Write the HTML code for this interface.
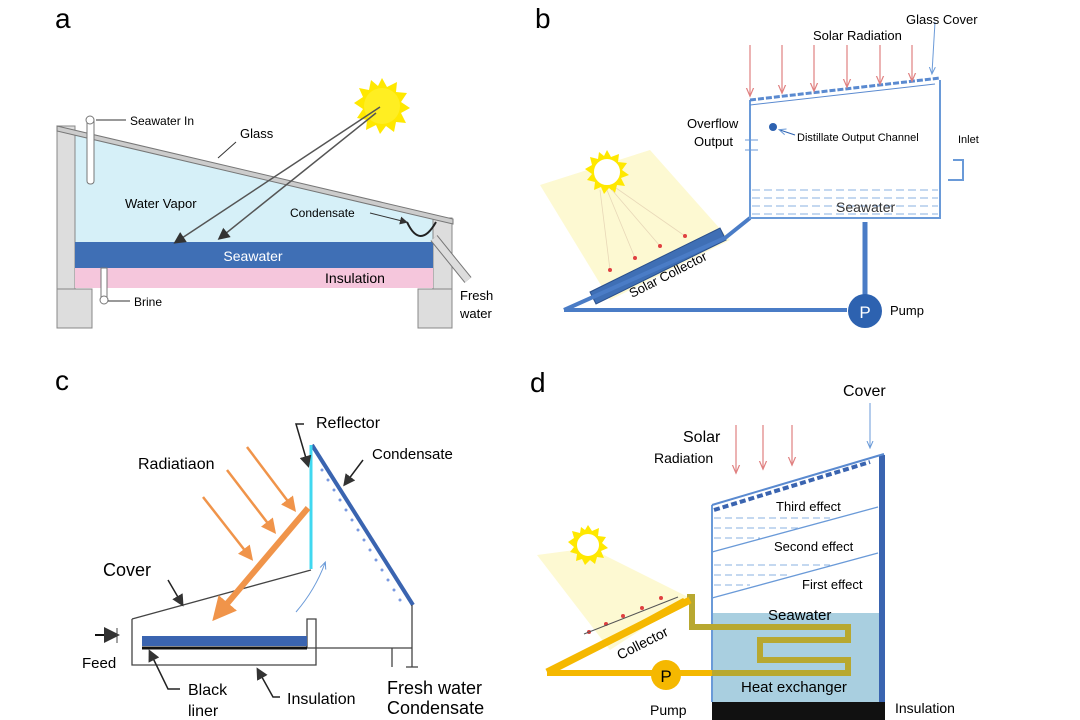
<!DOCTYPE html>
<html><head><style>
html,body{margin:0;padding:0;background:#fff;}
svg{display:block;font-family:"Liberation Sans",sans-serif;}
</style></head><body>
<svg width="1080" height="720" viewBox="0 0 1080 720" xmlns="http://www.w3.org/2000/svg">
<defs>
<marker id="ak" markerWidth="8" markerHeight="8" refX="6" refY="4" orient="auto"><path d="M0,0 L8,4 L0,8 z" fill="#333"/></marker>
<marker id="ar" markerWidth="8" markerHeight="8" refX="6" refY="4" orient="auto"><path d="M0,1 L7,4 L0,7" fill="none" stroke="#e08080" stroke-width="1"/></marker>
<marker id="ab" markerWidth="8" markerHeight="8" refX="6" refY="4" orient="auto"><path d="M0,1 L7,4 L0,7" fill="none" stroke="#6a9ad8" stroke-width="1"/></marker>
<marker id="ao" markerWidth="6" markerHeight="6" refX="4" refY="3" orient="auto"><path d="M0,0 L6,3 L0,6 z" fill="#f0944a"/></marker>
<marker id="ao2" markerWidth="4" markerHeight="4" refX="2" refY="2" orient="auto"><path d="M0,0 L4,2 L0,4 z" fill="#f0944a"/></marker>
</defs>

<!-- Panel labels -->
<text x="55" y="28" font-size="28">a</text>
<text x="535" y="28" font-size="28">b</text>
<text x="55" y="390" font-size="28">c</text>
<text x="530" y="392" font-size="28">d</text>

<!-- ===== Panel a ===== -->
<polygon points="75,132 433,218 433,242 75,242" fill="#d6f0f8"/>
<rect x="57" y="126" width="18" height="163" fill="#ddd" stroke="#888"/>
<rect x="433" y="218" width="19" height="71" fill="#ddd" stroke="#888"/>
<rect x="57" y="289" width="35" height="39" fill="#ddd" stroke="#888"/>
<rect x="418" y="289" width="34" height="39" fill="#ddd" stroke="#888"/>
<polygon points="57,126 453,219 453,224 57,131" fill="#ccc" stroke="#777"/>
<rect x="75" y="242" width="358" height="26" fill="#3f6fb5"/>
<text x="253" y="261" font-size="14" fill="#fff" text-anchor="middle">Seawater</text>
<rect x="75" y="268" width="358" height="20" fill="#f5c6dc"/>
<text x="355" y="283" font-size="14" text-anchor="middle">Insulation</text>
<rect x="87" y="118" width="7" height="66" rx="3" fill="#fff" stroke="#777"/>
<circle cx="90" cy="120" r="4" fill="#fff" stroke="#777"/>
<line x1="96" y1="120" x2="126" y2="120" stroke="#333"/>
<text x="130" y="125" font-size="12">Seawater In</text>
<rect x="101" y="268" width="6" height="32" fill="#fff" stroke="#777"/>
<circle cx="104" cy="300" r="4" fill="#fff" stroke="#777"/>
<line x1="108" y1="301" x2="130" y2="301" stroke="#333"/>
<text x="134" y="306" font-size="12">Brine</text>
<line x1="434" y1="238" x2="468" y2="280" stroke="#777" stroke-width="9"/>
<line x1="434" y1="238" x2="468" y2="280" stroke="#ddd" stroke-width="7"/>
<path d="M407,222 Q420,250 436,222" fill="none" stroke="#222" stroke-width="2"/>
<line x1="370" y1="213" x2="406" y2="222" stroke="#333" marker-end="url(#ak)"/>
<text x="290" y="217" font-size="12">Condensate</text>
<text x="240" y="138" font-size="13">Glass</text>
<line x1="236" y1="142" x2="218" y2="158" stroke="#333"/>
<text x="125" y="208" font-size="13">Water Vapor</text>
<text x="460" y="300" font-size="13">Fresh</text>
<text x="460" y="318" font-size="13">water</text>
<g transform="translate(382,106)">
<polygon points="0,-28 5,-19 15,-24 14,-14 25,-13 19,-4 28,2 19,7 24,17 14,16 12,26 4,20 -2,28 -6,19 -16,24 -15,14 -25,12 -19,3 -28,-3 -19,-9 -23,-18 -13,-16 -11,-26 -4,-20" fill="#ffe800"/>
<circle r="18" fill="#ffee22"/>
</g>
<line x1="380" y1="107" x2="176" y2="242" stroke="#555" stroke-width="1.5" marker-end="url(#ak)"/>
<line x1="376" y1="113" x2="220" y2="238" stroke="#555" stroke-width="1.5" marker-end="url(#ak)"/>

<!-- ===== Panel b ===== -->
<polygon points="540,185 650,150 730,240 610,300" fill="#fdf9d2"/>
<g transform="translate(607,172)">
<polygon points="0,-22 4,-15 12,-18 11,-10 20,-9 15,-2 22,3 14,6 18,14 10,13 8,21 2,16 -3,22 -6,15 -13,18 -12,10 -20,8 -15,2 -22,-3 -15,-7 -17,-15 -9,-13 -8,-20 -3,-16" fill="#ffe800"/>
<circle r="14" fill="#fff" stroke="#ffe800" stroke-width="2"/>
</g>
<g stroke="#e8d8b8" stroke-width="0.8"><line x1="600" y1="190" x2="610" y2="270"/><line x1="607" y1="190" x2="635" y2="258"/><line x1="612" y1="190" x2="660" y2="246"/><line x1="616" y1="188" x2="685" y2="236"/></g>
<g fill="#e04040"><circle cx="610" cy="270" r="2"/><circle cx="635" cy="258" r="2"/><circle cx="660" cy="246" r="2"/><circle cx="685" cy="236" r="2"/></g>
<polygon points="590,292 720,228 726,240 596,304" fill="#3f6fb5" stroke="#2a4f8a"/>
<text x="0" y="0" font-size="13" transform="translate(632,298) rotate(-27)">Solar Collector</text>
<polyline points="564,310 725,238 750,218" fill="none" stroke="#4a7cc6" stroke-width="4"/>
<polyline points="564,310 847,310" fill="none" stroke="#4a7cc6" stroke-width="4"/>
<line x1="865" y1="222" x2="865" y2="295" stroke="#4a7cc6" stroke-width="5"/>
<circle cx="865" cy="311" r="17" fill="#2d62b0"/>
<text x="865" y="318" font-size="17" fill="#fff" text-anchor="middle">P</text>
<text x="890" y="315" font-size="13">Pump</text>
<polyline points="750,100 750,218 940,218 940,80" fill="none" stroke="#6a9ad8" stroke-width="2"/>
<line x1="750" y1="100" x2="940" y2="78" stroke="#5a8ad0" stroke-width="3" stroke-dasharray="6,2"/>
<line x1="750" y1="105" x2="935" y2="84" stroke="#5a8ad0" stroke-width="1"/>
<g stroke="#8ab0e0" stroke-dasharray="8,4"><line x1="752" y1="190" x2="938" y2="190"/><line x1="752" y1="198" x2="938" y2="198"/><line x1="752" y1="206" x2="938" y2="206"/><line x1="752" y1="214" x2="938" y2="214"/></g>
<text x="836" y="212" font-size="14" fill="#333">Seawater</text>
<g stroke="#e08080" stroke-width="1.2" marker-end="url(#ar)">
<line x1="750" y1="45" x2="750" y2="95"/><line x1="782" y1="45" x2="782" y2="92"/><line x1="814" y1="45" x2="814" y2="90"/><line x1="847" y1="45" x2="847" y2="86"/><line x1="880" y1="45" x2="880" y2="83"/><line x1="912" y1="45" x2="912" y2="80"/>
</g>
<line x1="935" y1="22" x2="932" y2="73" stroke="#6a9ad8" marker-end="url(#ab)"/>
<text x="813" y="40" font-size="13">Solar Radiation</text>
<text x="906" y="24" font-size="13">Glass Cover</text>
<text x="687" y="128" font-size="13">Overflow</text>
<text x="694" y="146" font-size="13">Output</text>
<line x1="745" y1="140" x2="758" y2="140" stroke="#6a9ad8"/>
<line x1="745" y1="150" x2="758" y2="150" stroke="#6a9ad8"/>
<circle cx="773" cy="127" r="4" fill="#2d62b0"/>
<line x1="795" y1="135" x2="780" y2="130" stroke="#2d62b0" marker-end="url(#ab)"/>
<text x="797" y="141" font-size="11">Distillate Output Channel</text>
<text x="958" y="143" font-size="11">Inlet</text>
<path d="M953,160 L963,160 L963,180 L948,180" fill="none" stroke="#6a9ad8" stroke-width="2"/>

<!-- ===== Panel c ===== -->
<line x1="312" y1="445" x2="413" y2="605" stroke="#3a64b0" stroke-width="4"/>
<g fill="#7a9ae0">
<circle cx="322" cy="470" r="1.5"/><circle cx="328" cy="480" r="1.5"/><circle cx="334" cy="490" r="1.5"/><circle cx="340" cy="500" r="1.5"/><circle cx="346" cy="510" r="1.5"/><circle cx="352" cy="520" r="1.5"/><circle cx="358" cy="530" r="1.5"/><circle cx="364" cy="540" r="1.5"/><circle cx="370" cy="550" r="1.5"/><circle cx="376" cy="560" r="1.5"/><circle cx="382" cy="570" r="1.5"/><circle cx="388" cy="580" r="1.5"/><circle cx="394" cy="590" r="1.5"/><circle cx="400" cy="600" r="1.5"/>
</g>
<line x1="311" y1="445" x2="311" y2="569" stroke="#40d8f0" stroke-width="3"/>
<g fill="none" stroke="#444" stroke-width="1.3">
<polyline points="132,619 311,570"/>
<polyline points="412,605 412,648"/>
<polyline points="132,619 132,665 316,665 316,619 307,619 307,648 412,648"/>
<line x1="392" y1="648" x2="392" y2="667"/>
<line x1="406" y1="667" x2="418" y2="667"/><line x1="412" y1="648" x2="412" y2="667"/>
</g>
<rect x="142" y="636" width="165" height="10" fill="#3a64b0"/>
<line x1="142" y1="648" x2="307" y2="648" stroke="#111" stroke-width="3"/>
<line x1="95" y1="635" x2="116" y2="635" stroke="#111" stroke-width="2" marker-end="url(#ak)"/>
<line x1="117" y1="628" x2="117" y2="643" stroke="#444"/>
<text x="82" y="668" font-size="15">Feed</text>
<g stroke="#f0944a" stroke-width="2.5" marker-end="url(#ao)">
<line x1="247" y1="447" x2="293" y2="508"/><line x1="227" y1="470" x2="273" y2="530"/><line x1="203" y1="497" x2="250" y2="557"/>
</g>
<line x1="308" y1="508" x2="220" y2="612" stroke="#f0944a" stroke-width="6" marker-end="url(#ao2)"/>
<path d="M296,612 Q315,590 325,563" fill="none" stroke="#6a9ad8" marker-end="url(#ab)"/>
<text x="316" y="428" font-size="16">Reflector</text>
<polyline points="304,424 296,424 308,465" fill="none" stroke="#222" stroke-width="1.5" marker-end="url(#ak)"/>
<text x="372" y="459" font-size="15">Condensate</text>
<line x1="363" y1="460" x2="345" y2="484" stroke="#222" stroke-width="1.5" marker-end="url(#ak)"/>
<text x="138" y="469" font-size="16">Radiatiaon</text>
<text x="103" y="576" font-size="18">Cover</text>
<line x1="168" y1="580" x2="182" y2="604" stroke="#222" stroke-width="1.5" marker-end="url(#ak)"/>
<text x="188" y="695" font-size="16">Black</text>
<text x="188" y="716" font-size="16">liner</text>
<polyline points="180,689 168,689 150,652" fill="none" stroke="#222" stroke-width="1.5" marker-end="url(#ak)"/>
<text x="287" y="704" font-size="16">Insulation</text>
<polyline points="280,697 273,697 258,670" fill="none" stroke="#222" stroke-width="1.5" marker-end="url(#ak)"/>
<text x="387" y="694" font-size="18">Fresh water</text>
<text x="387" y="714" font-size="18">Condensate</text>

<!-- ===== Panel d ===== -->
<polygon points="537,555 590,548 690,598 610,650" fill="#fdf9d2"/>
<g transform="translate(588,545)">
<polygon points="0,-20 4,-14 11,-17 10,-9 18,-8 14,-2 20,3 13,6 16,13 9,12 7,19 2,15 -3,20 -6,14 -12,16 -11,9 -18,7 -14,2 -20,-3 -14,-7 -16,-14 -8,-12 -7,-18 -3,-15" fill="#ffe800"/>
<circle r="12" fill="#fff" stroke="#ffe800" stroke-width="2"/>
</g>
<g fill="#e04040"><circle cx="589" cy="632" r="2"/><circle cx="606" cy="624" r="2"/><circle cx="623" cy="616" r="2"/><circle cx="642" cy="608" r="2"/><circle cx="661" cy="598" r="2"/></g>
<rect x="712" y="613" width="168" height="89" fill="#a9cfe0"/>
<polyline points="712,505 712,702" fill="none" stroke="#6a9ad8" stroke-width="2"/>
<line x1="882" y1="455" x2="882" y2="702" stroke="#3a64b0" stroke-width="6"/>
<line x1="712" y1="505" x2="884" y2="454" stroke="#5a8ad0" stroke-width="2"/>
<line x1="714" y1="510" x2="870" y2="462" stroke="#3a64b0" stroke-width="4" stroke-dasharray="6,3"/>
<line x1="712" y1="552" x2="878" y2="507" stroke="#6a9ad8" stroke-width="1.3"/>
<line x1="712" y1="598" x2="878" y2="553" stroke="#6a9ad8" stroke-width="1.3"/>
<g stroke="#8ab0e0" stroke-dasharray="7,4"><line x1="714" y1="518" x2="830" y2="518"/><line x1="714" y1="528" x2="800" y2="528"/><line x1="714" y1="538" x2="760" y2="538"/><line x1="714" y1="565" x2="830" y2="565"/><line x1="714" y1="575" x2="790" y2="575"/><line x1="714" y1="585" x2="750" y2="585"/></g>
<rect x="712" y="702" width="173" height="18" fill="#111"/>
<text x="776" y="511" font-size="13">Third effect</text>
<text x="774" y="551" font-size="13">Second effect</text>
<text x="802" y="589" font-size="13">First effect</text>
<text x="768" y="620" font-size="15">Seawater</text>
<text x="741" y="692" font-size="15">Heat exchanger</text>
<polyline points="687,597 692,597 692,627 848,627 848,640 760,640 760,660 848,660 848,673 665,673" fill="none" stroke="#b8a830" stroke-width="6"/>
<polygon points="547,672 683,598 690,604 560,670" fill="#f5b800"/>
<polyline points="547,672 690,600" fill="none" stroke="#f5b800" stroke-width="7"/>
<line x1="584" y1="634" x2="678" y2="597" stroke="#555" stroke-width="1"/>
<line x1="547" y1="673" x2="712" y2="673" stroke="#f5b800" stroke-width="6"/>
<circle cx="666" cy="675" r="15" fill="#f5b800"/>
<text x="666" y="682" font-size="17" text-anchor="middle">P</text>
<text x="0" y="0" font-size="14" transform="translate(620,660) rotate(-27)">Collector</text>
<text x="650" y="715" font-size="14">Pump</text>
<text x="895" y="713" font-size="14">Insulation</text>
<g stroke="#e08080" stroke-width="1.2" marker-end="url(#ar)"><line x1="736" y1="425" x2="736" y2="472"/><line x1="763" y1="425" x2="763" y2="468"/><line x1="792" y1="425" x2="792" y2="464"/></g>
<line x1="870" y1="403" x2="870" y2="447" stroke="#6a9ad8" marker-end="url(#ab)"/>
<text x="843" y="396" font-size="16">Cover</text>
<text x="683" y="442" font-size="16">Solar</text>
<text x="654" y="463" font-size="14">Radiation</text>
</svg>
</body></html>
